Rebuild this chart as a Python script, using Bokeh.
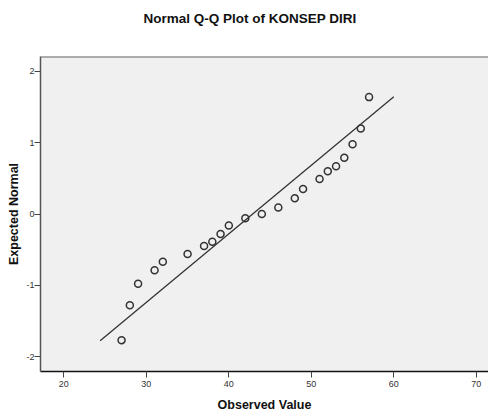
from bokeh.plotting import figure
from bokeh.models import Range1d, FixedTicker, Span, Title
from bokeh.embed import file_html
from bokeh.resources import INLINE

# Data
observed = [27, 28, 29, 31, 32, 35, 37, 38, 39, 40, 42, 44, 46, 48, 49,
            51, 52, 53, 54, 55, 56, 57]
expected = [-1.77, -1.28, -0.98, -0.79, -0.67, -0.56, -0.45, -0.39, -0.28,
            -0.16, -0.06, 0.00, 0.09, 0.22, 0.35, 0.49, 0.60, 0.67, 0.79,
            0.98, 1.20, 1.64]
line_mean = 42.9
line_sd = 10.4
line_x = [24.4, 60.0]
line_y = [(v - line_mean) / line_sd for v in line_x]
x_ticks = [20, 30, 40, 50, 60, 70]
y_ticks = [-2, -1, 0, 1, 2]

FONT = "Liberation Sans"

p = figure(width=488, height=414, output_backend="svg", toolbar_location=None,
           title=None,
           x_range=Range1d(17.17, 71.48), y_range=Range1d(-2.21, 2.21),
           min_border_left=40, min_border_right=0, min_border_top=56,
           min_border_bottom=43)

# spacer between the frame and the title
p.add_layout(Title(text=" ", text_font_size="12px", standoff=10), "above")
p.add_layout(Title(text="Normal Q-Q Plot of KONSEP DIRI", align="left",
                   offset=103, standoff=10, text_font=FONT,
                   text_font_size="13.5px", text_font_style="bold",
                   text_color="#111111"), "above")

p.border_fill_color = "white"
p.background_fill_color = "#f0f0f0"
p.outline_line_color = None
p.grid.visible = False

p.add_layout(Span(location=2.21, dimension="width", line_color="#666666",
                  line_width=2))

for ax in (p.xaxis[0], p.yaxis[0]):
    ax.major_label_text_font = FONT
    ax.major_label_text_font_size = "9px"
    ax.major_label_text_color = "#333333"
    ax.major_tick_out = 6
    ax.major_tick_in = 0
    ax.minor_tick_out = 0
    ax.minor_tick_in = 0
    ax.major_tick_line_color = "#444444"
    ax.axis_label_text_font = FONT
    ax.axis_label_text_font_size = "12.5px"
    ax.axis_label_text_font_style = "bold"
    ax.axis_label_text_color = "#111111"

p.xaxis.ticker = FixedTicker(ticks=x_ticks)
p.yaxis.ticker = FixedTicker(ticks=y_ticks)
p.yaxis.major_label_overrides = {t: str(t) for t in y_ticks}
p.xaxis.axis_label = "Observed Value"
p.yaxis.axis_label = "Expected Normal"
p.xaxis.axis_line_color = "#111111"
p.yaxis.axis_line_color = "#555555"
p.xaxis.axis_line_width = 1.5
p.yaxis.axis_line_width = 1.5
p.xaxis.major_label_standoff = 3
p.xaxis.axis_label_standoff = 8
p.yaxis.major_label_standoff = 0
p.yaxis.axis_label_standoff = 2

p.line(line_x, line_y, line_color="#333333", line_width=1.3)
p.scatter(observed, expected, marker="circle", size=7, fill_color=None,
          line_color="#333333", line_width=1.5)

open("out.html", "w").write(file_html(p, INLINE))
